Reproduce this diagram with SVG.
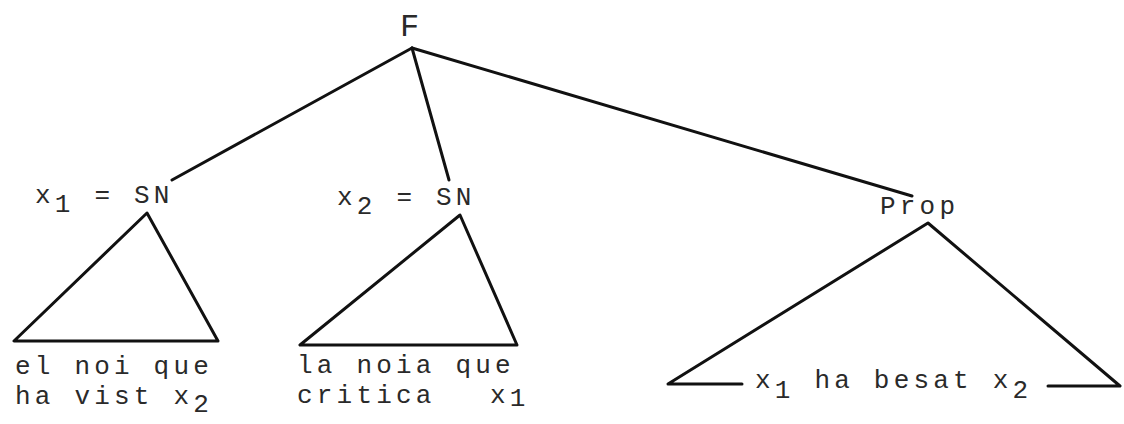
<svg xmlns="http://www.w3.org/2000/svg" width="1124" height="424" viewBox="0 0 1124 424">
  <style>
    .t { font-family: "Liberation Mono", "Courier New", monospace; font-size: 26px; letter-spacing: 4.2px; fill: #2a2a2a; }
    .big { font-size: 32px; letter-spacing: 0; }
    .ln { stroke: #111; stroke-width: 3; fill: none; stroke-linecap: round; stroke-linejoin: round; }
  </style>
  <rect width="1124" height="424" fill="#ffffff"/>

  <g id="connectors">
    <line class="ln" x1="412" y1="48" x2="172" y2="180"/>
    <line class="ln" x1="412" y1="48" x2="449" y2="180"/>
    <line class="ln" x1="412" y1="48" x2="912" y2="196"/>
  </g>

  <g id="node-F">
    <text class="t big" x="400" y="36">F</text>
  </g>

  <g id="node-x1-SN">
    <text class="t" x="35" y="203">x<tspan dy="9">1</tspan><tspan dy="-9"> = SN</tspan></text>
    <polygon class="ln" points="147,213 14,341 218,341"/>
    <text class="t" x="15" y="374">el noi que</text>
    <text class="t" x="15" y="404">ha vist x<tspan dy="8">2</tspan></text>
  </g>

  <g id="node-x2-SN">
    <text class="t" x="337" y="205">x<tspan dy="9">2</tspan><tspan dy="-9"> = SN</tspan></text>
    <polygon class="ln" points="460,215 300,345 517,345"/>
    <text class="t" x="297" y="373">la noia que</text>
    <text class="t" x="297" y="403">critica</text>
    <text class="t" x="490" y="403">x<tspan dy="3">1</tspan></text>
  </g>

  <g id="node-Prop">
    <text class="t" x="880" y="214">Prop</text>
    <polyline class="ln" points="742,384 668,384 928,223 1120,386 1048,386"/>
    <text class="t" x="755" y="388">x<tspan dy="10">1</tspan><tspan dy="-10"> ha besat x</tspan><tspan dy="10">2</tspan></text>
  </g>
</svg>
